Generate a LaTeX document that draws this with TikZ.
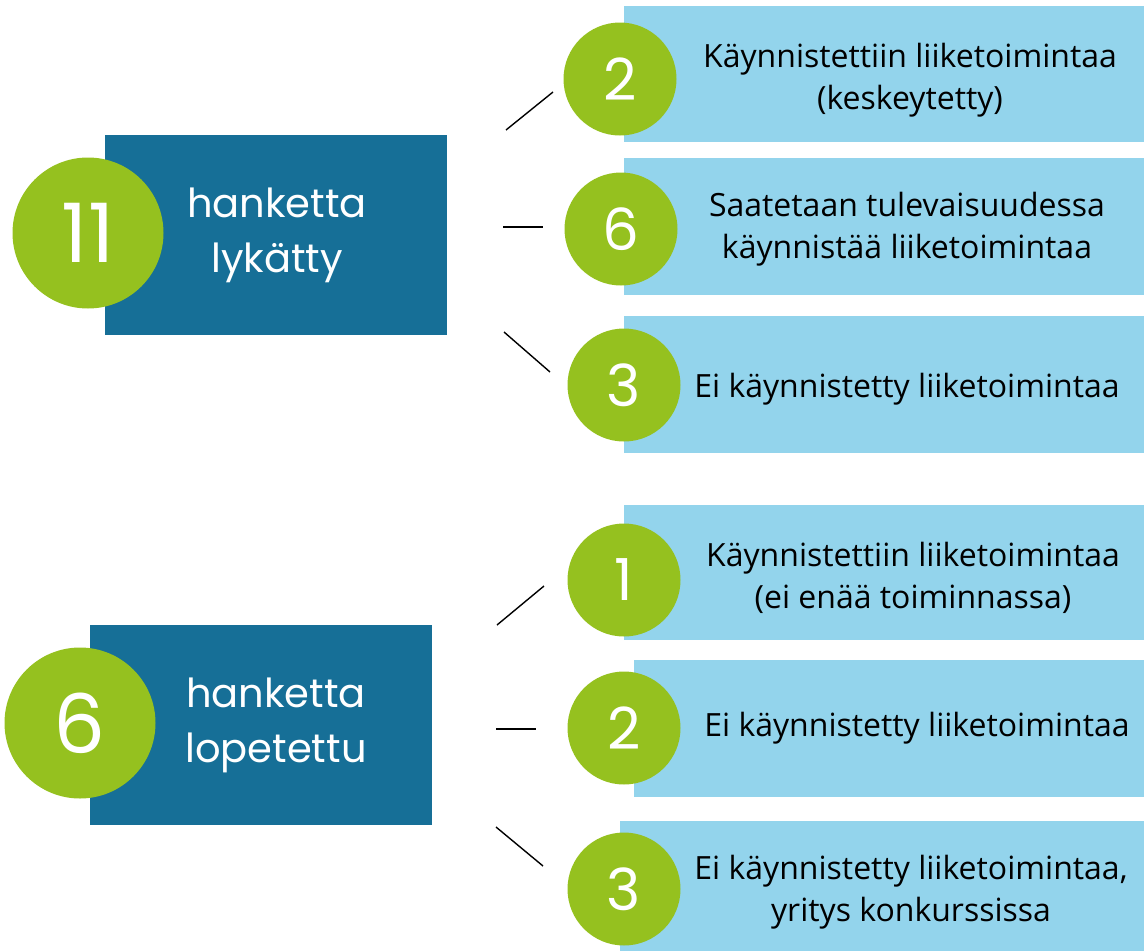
\documentclass[tikz,border=0pt]{standalone}
\usepackage{fontspec}
\setmainfont{Open Sans}
\newfontfamily\numfont{Poppins}
\definecolor{hubblue}{HTML}{166F97}
\definecolor{ballgreen}{HTML}{95C11F}
\definecolor{paleblue}{HTML}{93D4EC}

\begin{document}
\begin{tikzpicture}[x=1pt,y=-1pt,
  hub/.style={fill=hubblue,minimum width=342pt,minimum height=200pt,inner sep=0pt},
  hubtext/.style={text=white,align=center,font=\numfont\fontsize{40}{55}\selectfont},
  ball/.style={circle,fill=ballgreen,text=white,inner sep=0pt},
  bigball/.style={ball,minimum size=151pt,font=\numfont\fontsize{82}{82}\selectfont},
  smallball/.style={ball,minimum size=113pt,font=\numfont\fontsize{58}{58}\selectfont},
  bar/.style={fill=paleblue,inner sep=0pt},
  bartext/.style={align=center,font=\fontsize{32}{42}\selectfont},
  linkline/.style={line width=1.4pt}]

\useasboundingbox (0,0) rectangle (1144,951);

% left side
\node [hub] (hub1) at (276,235) {};
\node [hubtext] (ht1) at (277,235) {hanketta\\lykätty};
\node [bigball] (n1) at (88,233) {11};

\node [hub] (hub2) at (261,725) {};
\node [hubtext] (ht2) at (276,725) {hanketta\\lopetettu};
\node [bigball] (n2) at (80,723) {6};

% right side, upper group
\node [bar, minimum width=520pt, minimum height=136pt] (bar1) at (884,74) {};
\node [bar, minimum width=520pt, minimum height=137pt] (bar2) at (884,226.5) {};
\node [bar, minimum width=520pt, minimum height=137pt] (bar3) at (884,384.5) {};

\node [smallball] (c1) at (620,79) {2};
\node [smallball] (c2) at (621,229) {6};
\node [smallball] (c3) at (624,385) {3};

\node [bartext] (t1) at (910,80) {Käynnistettiin liiketoimintaa\\(keskeytetty)};
\node [bartext] (t2) at (907,229) {Saatetaan tulevaisuudessa\\käynnistää liiketoimintaa};
\node [bartext] (t3) at (907,389) {Ei käynnistetty liiketoimintaa};

% right side, lower group
\node [bar, minimum width=520pt, minimum height=135pt] (bar4) at (884,572.5) {};
\node [bar, minimum width=510pt, minimum height=137pt] (bar5) at (889,728.5) {};
\node [bar, minimum width=524pt, minimum height=130pt] (bar6) at (882,886) {};

\node [smallball] (c4) at (624,580) {1};
\node [smallball] (c5) at (624,728) {2};
\node [smallball] (c6) at (624,889) {3};

\node [bartext] (t4) at (913,578) {Käynnistettiin liiketoimintaa\\(ei enää toiminnassa)};
\node [bartext] (t5) at (917,728) {Ei käynnistetty liiketoimintaa};
\node [bartext] (t6) at (911,892) {Ei käynnistetty liiketoimintaa,\\yritys konkurssissa};

% short links
\coordinate (a1) at (506,130); \coordinate (b1) at (553,92);
\coordinate (a2) at (503,227); \coordinate (b2) at (543,227);
\coordinate (a3) at (504,332); \coordinate (b3) at (550,372);
\coordinate (a4) at (497,625); \coordinate (b4) at (544,586);
\coordinate (a5) at (496,729); \coordinate (b5) at (536,729);
\coordinate (a6) at (496,827); \coordinate (b6) at (543,866);

\draw [linkline] (a1) -- (b1);
\draw [linkline] (a2) -- (b2);
\draw [linkline] (a3) -- (b3);
\draw [linkline] (a4) -- (b4);
\draw [linkline] (a5) -- (b5);
\draw [linkline] (a6) -- (b6);

\end{tikzpicture}
\end{document}
